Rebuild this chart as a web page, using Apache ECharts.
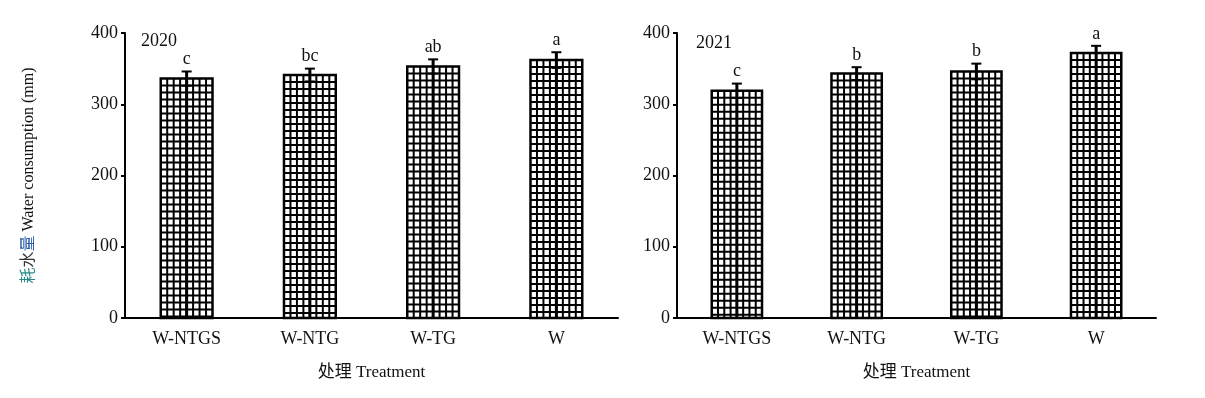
<!DOCTYPE html>
<html>
<head>
<meta charset="utf-8">
<script src="https://cdn.jsdelivr.net/npm/echarts@6/dist/echarts.min.js"></script>
<style>
  html, body { margin: 0; padding: 0; background: #fff; }
  #main { width: 1205px; height: 398px; }
</style>
</head>
<body>
<div id="main"></div>
<script>
// 数据
const categories = ['W-NTGS', 'W-NTG', 'W-TG', 'W'];
const yTicks = [0, 100, 200, 300, 400];
const mean2020 = [336, 341, 353, 362];
const err2020 = [10, 9, 10, 11];
const sig2020 = ['c', 'bc', 'ab', 'a'];
const mean2021 = [319, 343, 346, 372];
const err2021 = [10, 9, 11, 10];
const sig2021 = ['c', 'b', 'b', 'a'];

const FONT = "'Liberation Serif', 'Times New Roman', 'Noto Sans CJK SC', serif";

// 网格填充柱子
function renderBar(params, api) {
  const i = api.value(0), v = api.value(1);
  const top = api.coord([i, v]);
  const base = api.coord([i, 0]);
  const w = api.size([1, 0])[0] * 0.42;
  const x0 = top[0] - w / 2;
  const h = base[1] - top[1];
  const children = [{
    type: 'rect',
    shape: { x: x0, y: top[1], width: w, height: h },
    style: { fill: '#fff', stroke: '#000', lineWidth: 2.5 }
  }];
  const cols = 8;
  for (let k = 1; k < cols; k++) {
    const x = x0 + k * w / cols;
    children.push({ type: 'line', shape: { x1: x, y1: top[1], x2: x, y2: base[1] },
      style: { stroke: '#000', lineWidth: 2 } });
  }
  for (let y = top[1] + 7; y < base[1] - 1; y += 7) {
    children.push({ type: 'line', shape: { x1: x0, y1: y, x2: x0 + w, y2: y },
      style: { stroke: '#000', lineWidth: 2 } });
  }
  return { type: 'group', children: children };
}

// 误差线 + 显著性字母
function renderErr(params, api) {
  const i = api.value(0), m = api.value(1), e = api.value(2);
  const hi = api.coord([i, m + e]);
  const lo = api.coord([i, m - e]);
  const base = api.coord([i, 0]);
  const cw = 5;
  const letter = params.seriesIndex === 2 ? sig2020[params.dataIndex] : sig2021[params.dataIndex];
  return {
    type: 'group',
    children: [
      { type: 'line', shape: { x1: hi[0], y1: hi[1], x2: base[0], y2: base[1] }, style: { stroke: '#000', lineWidth: 3 } },
      { type: 'line', shape: { x1: hi[0] - cw, y1: hi[1], x2: hi[0] + cw, y2: hi[1] }, style: { stroke: '#000', lineWidth: 2 } },
      { type: 'line', shape: { x1: lo[0] - cw, y1: lo[1], x2: lo[0] + cw, y2: lo[1] }, style: { stroke: '#000', lineWidth: 2 } },
      { type: 'text', x: hi[0], y: hi[1] - 3,
        style: { text: letter, fill: '#111', font: '18px ' + FONT, align: 'center', verticalAlign: 'bottom' } }
    ]
  };
}

function xAxis(gridIndex) {
  return {
    type: 'category', gridIndex: gridIndex, data: categories, boundaryGap: true,
    name: '处理 Treatment', nameLocation: 'middle', nameGap: 46,
    nameTextStyle: { color: '#111', fontSize: 17, fontFamily: FONT },
    axisLine: { lineStyle: { color: '#000', width: 2 } },
    axisTick: { inside: true, length: 7, lineStyle: { color: '#000', width: 2 } },
    axisLabel: { color: '#111', fontSize: 18, fontFamily: FONT, margin: 12 }
  };
}

function yAxis(gridIndex, withName) {
  const ax = {
    type: 'value', gridIndex: gridIndex, min: yTicks[0], max: yTicks[yTicks.length - 1],
    interval: yTicks[1] - yTicks[0],
    splitLine: { show: false },
    axisLine: { show: true, lineStyle: { color: '#000', width: 2 } },
    axisTick: { show: true, length: 4, lineStyle: { color: '#000', width: 2 } },
    axisLabel: { color: '#111', fontSize: 18, fontFamily: FONT, margin: 7 }
  };
  if (withName) {
    ax.name = '{a|耗}{b|水}{c|量} Water consumption (mm)';
    ax.nameLocation = 'middle';
    ax.nameGap = 88;
    ax.nameTextStyle = {
      color: '#111', fontSize: 16, fontFamily: FONT,
      rich: {
        a: { color: '#2a8a8a', fontSize: 16, fontFamily: FONT },
        b: { color: '#333', fontSize: 16, fontFamily: FONT },
        c: { color: '#2a5caa', fontSize: 16, fontFamily: FONT }
      }
    };
  }
  return ax;
}

const chart = echarts.init(document.getElementById('main'));
chart.setOption({
  animation: false,
  backgroundColor: '#fff',
  grid: [
    { left: 125, width: 493, top: 33, height: 285 },
    { left: 677, width: 479, top: 33, height: 285 }
  ],
  xAxis: [xAxis(0), xAxis(1)],
  yAxis: [yAxis(0, true), yAxis(1, false)],
  graphic: [
    { type: 'text', left: 141, top: 32, style: { text: '2020', fill: '#111', font: '18px ' + FONT } },
    { type: 'text', left: 696, top: 34, style: { text: '2021', fill: '#111', font: '18px ' + FONT } }
  ],
  series: [
    { type: 'custom', xAxisIndex: 0, yAxisIndex: 0, renderItem: renderBar,
      data: mean2020.map((v, i) => [i, v]) },
    { type: 'custom', xAxisIndex: 1, yAxisIndex: 1, renderItem: renderBar,
      data: mean2021.map((v, i) => [i, v]) },
    { type: 'custom', xAxisIndex: 0, yAxisIndex: 0, renderItem: renderErr, z: 5,
      data: mean2020.map((v, i) => [i, v, err2020[i]]) },
    { type: 'custom', xAxisIndex: 1, yAxisIndex: 1, renderItem: renderErr, z: 5,
      data: mean2021.map((v, i) => [i, v, err2021[i]]) }
  ]
});
</script>
</body>
</html>
